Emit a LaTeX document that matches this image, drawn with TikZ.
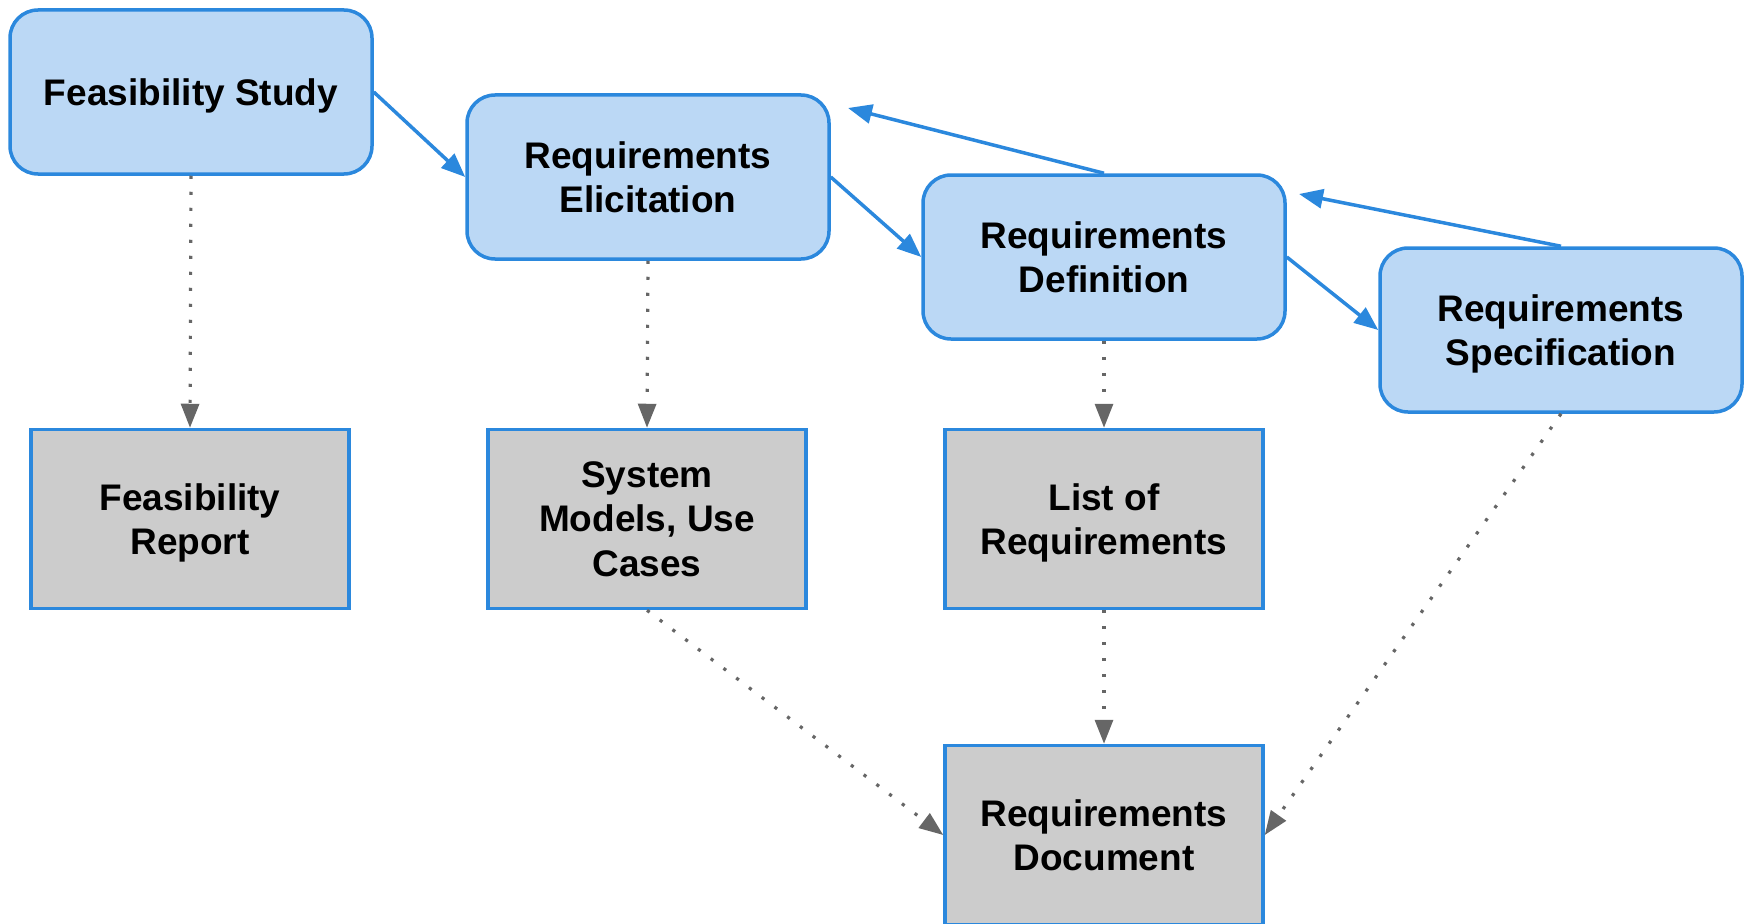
\documentclass[tikz,border=0pt]{standalone}
\usepackage{fontspec}
\setmainfont{Liberation Sans}
\usetikzlibrary{arrows.meta}
\definecolor{bluefill}{HTML}{BBD8F5}
\definecolor{blueline}{HTML}{2B88DD}
\definecolor{grayfill}{HTML}{CCCCCC}
\definecolor{dotgray}{HTML}{666666}
\tikzset{
  stage/.style={draw=blueline, fill=bluefill, line width=3.5pt, rounded corners=28pt,
    minimum width=362pt, minimum height=164pt, inner sep=0pt, align=center, text depth=0pt,
    font=\fontsize{37}{44.5}\selectfont\bfseries},
  artefact/.style={draw=blueline, fill=grayfill, line width=3.5pt,
    minimum width=318pt, minimum height=179pt, inner sep=0pt, align=center, text depth=0pt,
    font=\fontsize{37}{44.5}\selectfont\bfseries},
  flow/.style={draw=blueline, line width=3.5pt, -{Triangle[length=24pt,width=19pt]}},
  produce/.style={draw=dotgray, line width=3.2pt, dash pattern=on 3.2pt off 12.8pt,
    -{Triangle[length=24pt,width=18pt]}, color=dotgray},
}
\begin{document}
\begin{tikzpicture}[x=1pt,y=-1pt]
\useasboundingbox (0,0) rectangle (1744,923);
\node[stage] (fs) at (191,92) {Feasibility Study};
\node[stage] (re) at (648,177) {Requirements\\Elicitation};
\node[stage] (rd) at (1104,257) {Requirements\\Definition};
\node[stage] (rs) at (1561,330) {Requirements\\Specification};
\node[artefact] (fr) at (190,519) {Feasibility\\Report};
\node[artefact] (sm) at (647,519) {System\\Models, Use\\Cases};
\node[artefact] (lr) at (1104,519) {List of\\Requirements};
\node[artefact] (doc) at (1104,835) {Requirements\\Document};
\coordinate (fb1) at (848,108);
\coordinate (fb2) at (1299,194);
\draw[flow] (fs.east) -- (re.west);
\draw[flow] (re.east) -- (rd.west);
\draw[flow] (rd.east) -- (rs.west);
\draw[flow] (rd.north) -- (fb1);
\draw[flow] (rs.north) -- (fb2);
\draw[produce] (fs.south) -- (fr.north);
\draw[produce] (re.south) -- (sm.north);
\draw[produce] (rd.south) -- (lr.north);
\draw[produce] (lr.south) -- (doc.north);
\draw[produce] (sm.south) -- (doc.west);
\draw[produce] (rs.south) -- (doc.east);
\end{tikzpicture}
\end{document}
